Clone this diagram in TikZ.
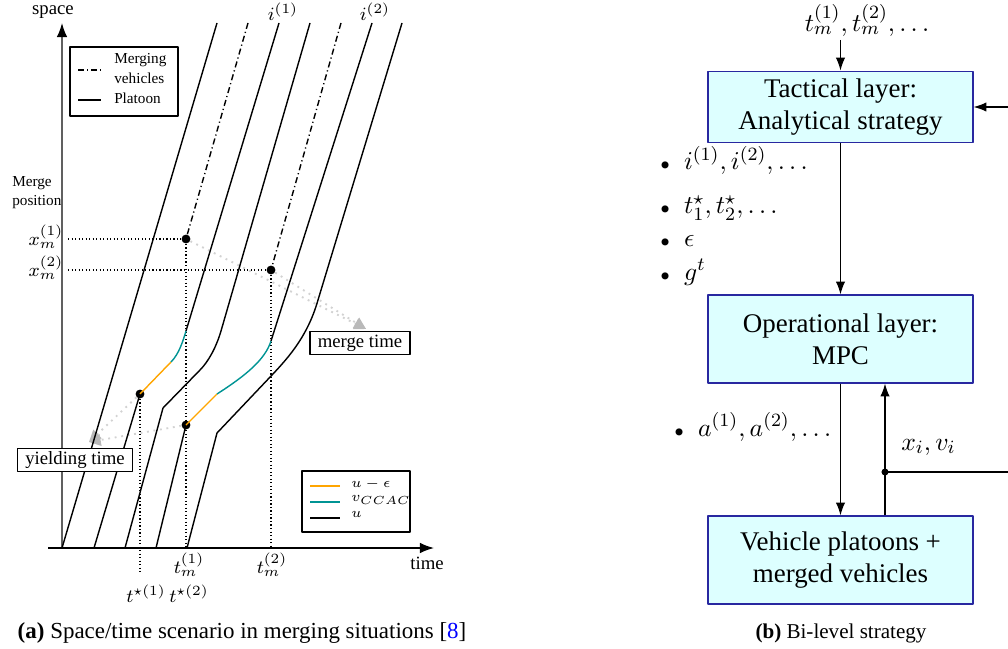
\documentclass[tikz,border=0pt]{standalone}
\usepackage{fontspec}
\setmainfont{Liberation Serif}
\usetikzlibrary{arrows.meta,positioning}
\definecolor{yieldorange}{HTML}{FFA500}
\definecolor{ccacteal}{HTML}{009494}
\definecolor{boxfill}{HTML}{DDFFFF}
\definecolor{boxline}{HTML}{2828A0}

\begin{document}
\begin{tikzpicture}[x=0.015cm, y=-0.015cm, line join=round]
    \tikzset{
      traj/.style={line width=0.6pt},
      merger/.style={line width=0.6pt, dash pattern=on 2.6pt off 1.3pt on 0.5pt off 1.3pt},
      guide/.style={densely dotted, line width=0.5pt},
      hint/.style={gray!35, dotted, line width=0.8pt, -{Triangle[length=5pt,width=5pt,color=gray!55]}},
      dot/.style={circle, fill=black, inner sep=0pt, minimum size=3.8pt},
      tinytext/.style={font=\fontsize{6.5}{7.5}\selectfont},
      smalltext/.style={font=\fontsize{8}{9.5}\selectfont},
      tag/.style={draw, smalltext, inner xsep=3.3pt, inner ysep=0pt, minimum height=0.34cm, line width=0.5pt, fill=white},
      layer/.style={draw=boxline, fill=boxfill, line width=0.5pt, align=center, minimum width=3.975cm, font=\fontsize{11.5}{13.5}\selectfont},
      flow/.style={-{Latex[length=5.5pt,width=4pt]}, line width=0.5pt},
      bigmath/.style={font=\fontsize{11}{13}\selectfont}
    }
    \useasboundingbox (0,0) rectangle (1008,649);

    % (a) Space/time scenario
    % Axes
    \draw[gray!75!black, line width=0.6pt, -{Latex[length=6pt,width=4.5pt,color=black]}] (62,548) -- (62,23);
    \draw[line width=0.6pt, -{Latex[length=6pt,width=4.5pt]}] (48,548) -- (434,548);
    \node[smalltext] (space) at (53,12) {space};
    \node[smalltext] (time) at (427,563) {time};
    \node[tinytext, anchor=west] (mpos1) at (4,183) {Merge};
    \node[tinytext, anchor=west] (mpos2) at (4,202) {position};
    \node[smalltext] (xm1) at (46,237) {$x_m^{(1)}$};
    \node[smalltext] (xm2) at (46,268) {$x_m^{(2)}$};

    % Merge and yield points
    \node[dot] (m1) at (186,239) {};
    \node[dot] (m2) at (271,270) {};
    \node[dot] (y1) at (140,394) {};
    \node[dot] (y2) at (186,425) {};

    % Hint arrows to the labels
    \coordinate (mtip) at (366,329);
    \coordinate (ytip) at (89,442);
    \draw[hint] (m1) -- (mtip);
    \draw[hint] (m2) -- (mtip);
    \draw[hint] (y1) -- (ytip);
    \draw[hint] (y2) -- (ytip);

    % Guides
    \draw[guide] (68,239) -- (m1) -- (186,548);
    \draw[guide] (68,270) -- (m2) -- (271,548);
    \draw[guide] (y1) -- (140,573);

    % Platoon
    \draw[traj] (62,548) -- (217,23);
    \draw[traj] (94,548) -- (y1.center);
    \draw[traj, yieldorange] (y1.center) -- (171,362);
    \draw[traj, ccacteal] (171,362) .. controls (179,354) and (183,341) .. (186,331);
    \draw[traj] (186,331) -- (279,23);
    \draw[traj] (125,548) -- (163,408) -- (200,370) .. controls (208,362) and (216,348) .. (221,331) -- (310,23);
    \draw[traj] (156,548) -- (y2.center);
    \draw[traj, yieldorange] (y2.center) -- (217,394);
    \draw[traj, ccacteal] (217,394) .. controls (245,376) and (265,360) .. (271,341);
    \draw[traj] (271,341) -- (372,23);
    \draw[traj] (187,548) -- (217,433) -- (272,375) .. controls (290,356) and (308,335) .. (318,300) -- (402,23);

    % Merging vehicles
    \draw[merger] (248,23) -- (m1);
    \draw[merger] (341,23) -- (m2);
    \node[smalltext] (i1) at (283,12) {$i^{(1)}$};
    \node[smalltext] (i2) at (375,12) {$i^{(2)}$};

    % Labels on top of the lines
    \node[tag] (mergebox) at (360,343) {merge time};
    \node[tag] (yieldbox) at (75,460) {yielding time};

    % Time ticks
    \node[smalltext] (tm1) at (189,565) {$t_m^{(1)}$};
    \node[smalltext] (tm2) at (272,565) {$t_m^{(2)}$};
    \node[smalltext, inner xsep=0pt] (ts1) at (146,594) {$t^{\star(1)}$};
    \node[smalltext, inner xsep=0pt] (ts2) at (189,594) {$t^{\star(2)}$};

    % Legend - line styles
    \draw[line width=0.5pt, fill=white] (70,47) rectangle (178,116);
    \draw[merger] (78,70) -- (101,70);
    \draw[traj, line width=0.5pt] (78,100) -- (101,100);
    \node[tinytext, anchor=west] (lmerg1) at (106,60) {Merging};
    \node[tinytext, anchor=west] (lmerg2) at (106,78) {vehicles};
    \node[tinytext, anchor=west] (lplat) at (106,98) {Platoon};

    % Legend - speeds
    \draw[line width=0.5pt, fill=white] (302,471) rectangle (410,532);
    \draw[traj, yieldorange] (310,486) -- (340,486);
    \draw[traj, ccacteal] (310,502) -- (340,502);
    \draw[traj] (310,518) -- (340,518);
    \node[tinytext, anchor=west] (lslow) at (343,484) {$u-\epsilon$};
    \node[tinytext, anchor=west] (lccac) at (343,500) {$v_{CCAC}$};
    \node[tinytext, anchor=west] (lfree) at (343,514) {$u$};

    % (b) Bi-level strategy
    \node[layer, minimum height=0.99cm] (tact) at (840.5,107) {Tactical layer:\\Analytical strategy};
    \node[layer, minimum height=1.32cm] (oper) at (840.5,339) {Operational layer:\\MPC};
    \node[layer, minimum height=1.32cm] (veh) at (840.5,560) {Vehicle platoons +\\merged vehicles};

    \node[bigmath, anchor=base, inner ysep=1pt] (tin) at (867,32) {$t_m^{(1)}, t_m^{(2)}, \dots$};
    \draw[flow] (tin.south -| tact.north) -- (tact.north);
    \draw[flow] (tact) -- (oper);
    \draw[flow] (oper) -- (veh);

    % Feedback
    \node[dot, minimum size=3pt] (jn) at (885,472) {};
    \coordinate (fbk) at (1030,472);
    \draw[flow] (veh.north -| jn) -- (oper.south -| jn);
    \draw[flow] (jn.center) -- (fbk) |- (tact.east);
    \node[bigmath, anchor=base west] (xv) at (893,450) {$x_i, v_i$};

    % Outputs
    \node[bigmath, anchor=base west, inner sep=0pt] (o1) at (660,170) {{\scriptsize$\bullet$}\hspace{6pt}$i^{(1)}, i^{(2)}, \dots$};
    \node[bigmath, anchor=base west, inner sep=0pt] (o2) at (660,214) {{\scriptsize$\bullet$}\hspace{6pt}$t_1^{\star}, t_2^{\star}, \dots$};
    \node[bigmath, anchor=base west, inner sep=0pt] (o3) at (660,246) {{\scriptsize$\bullet$}\hspace{6pt}$\epsilon$};
    \node[bigmath, anchor=base west, inner sep=0pt] (o4) at (660,280) {{\scriptsize$\bullet$}\hspace{6pt}$g^{t}$};
    \node[bigmath, anchor=base west, inner sep=0pt] (o5) at (674,436) {{\scriptsize$\bullet$}\hspace{6pt}$a^{(1)}, a^{(2)}, \dots$};

    % Captions
    \node[font=\fontsize{9.8}{11}\selectfont] (capa) at (242,633) {\textbf{(a)} Space/time scenario in merging situations [\textcolor{blue}{8}]};
    \node[font=\fontsize{9}{11}\selectfont] (capb) at (841,633) {\textbf{(b)} Bi-level strategy};
\end{tikzpicture}
\end{document}
